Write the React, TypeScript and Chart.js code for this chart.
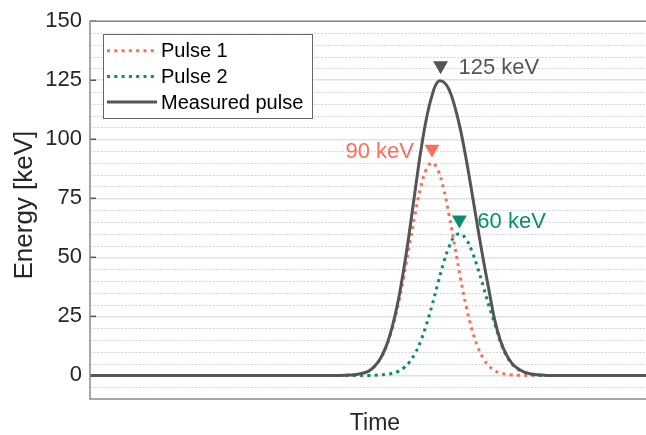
import React, { useEffect, useRef } from "react";
import { Chart, registerables } from "chart.js";

Chart.register(...registerables);

const FONT = "'Liberation Sans', Arial, Helvetica, sans-serif";

// Time samples (arbitrary units)
const timePoints = [0, 40, 41, 42, 43, 44, 45, 46, 47, 48, 49, 50, 51, 52, 53, 54, 55, 56, 57, 58, 59, 60, 61, 62, 63, 64, 65, 66, 67, 68, 69, 70, 71, 72, 73, 74, 75, 76, 77, 78, 79, 80, 81, 82, 100];

// Energy series [keV]
const pulse1 = [0, 0, 0, 0, 0, 0, 0.1, 0.2, 0.5, 1.0, 2.0, 4.0, 7.2, 12.2, 19.5, 29.2, 41.2, 54.6, 67.9, 79.4, 87.2, 90, 87.2, 79.4, 67.9, 54.6, 41.2, 29.2, 19.5, 12.2, 7.2, 4.0, 2.0, 1.0, 0.5, 0.2, 0.1, 0, 0, 0, 0, 0, 0, 0, 0];
const pulse2 = [0, 0, 0, 0, 0, 0, 0, 0, 0, 0, 0, 0.1, 0.2, 0.4, 0.8, 1.6, 3.1, 5.5, 9.2, 14.4, 21.4, 29.6, 38.7, 47.4, 54.5, 59.0, 59.9, 57.6, 52.6, 45.7, 37.6, 29.4, 21.9, 14.2, 8.6, 5.0, 2.8, 1.5, 0.7, 0.3, 0.1, 0, 0, 0, 0];
const measured = [0, 0, 0, 0, 0, 0, 0.1, 0.2, 0.5, 1.0, 2.0, 4.1, 7.4, 12.6, 20.3, 30.8, 44.3, 60.1, 77.5, 94.5, 108.5, 118.5, 124.3, 124.3, 121.0, 113.8, 104.0, 91.5, 77.5, 63.0, 49.0, 36.0, 23.5, 14.8, 9.0, 5.2, 3.0, 1.6, 0.8, 0.4, 0.2, 0, 0, 0, 0];

const seriesNames = ["Pulse 1", "Pulse 2", "Measured pulse"];

// Peak markers
const markerTimes = [61.5, 60, 64.8];
const markerEnergies = [131.2, 95.9, 65.9];
const markerLabels = ["125 keV", "90 keV", "60 keV"];

const yTicks = [0, 25, 50, 75, 100, 125, 150];
const yTitle = "Energy [keV]";
const xTitle = "Time";

const RED = "#fa6e5a";
const GREEN = "#078f6d";
const GRAY = "#555555";
const seriesColors = [RED, GREEN, GRAY];
const markerColors = [GRAY, RED, GREEN];
const markerLabelLeft = [false, true, false];

export default function App() {
  const ref = useRef<HTMLCanvasElement>(null);

  useEffect(() => {
    const canvas = ref.current;
    if (!canvas) return;
    const toPts = (vals: number[]) => timePoints.map((t, i) => ({ x: t, y: vals[i] }));

    const overlay = {
      id: "overlay",
      beforeDatasetsDraw(chart: any) {
        const { ctx, chartArea: a, scales } = chart;
        const y = scales.y;
        ctx.save();
        ctx.strokeStyle = "#d2d2d2";
        ctx.lineWidth = 1;
        ctx.setLineDash([2, 1.5]);
        for (let v = -5; v < 150; v += 5) {
          if (v % 25 === 0) continue;
          const py = Math.round(y.getPixelForValue(v)) + 0.5;
          ctx.beginPath();
          ctx.moveTo(a.left, py);
          ctx.lineTo(a.right, py);
          ctx.stroke();
        }
        ctx.setLineDash([]);
        ctx.strokeStyle = "#555";
        ctx.lineWidth = 1.5;
        yTicks.forEach((v) => {
          const py = y.getPixelForValue(v);
          ctx.beginPath();
          ctx.moveTo(a.left, py);
          ctx.lineTo(a.left + 6, py);
          ctx.stroke();
        });
        ctx.restore();
      },
      afterDatasetsDraw(chart: any) {
        const { ctx, chartArea: a } = chart;
        ctx.save();
        // frame
        ctx.strokeStyle = "#8a8a8a";
        ctx.lineWidth = 1.5;
        ctx.beginPath();
        ctx.moveTo(a.right, a.top);
        ctx.lineTo(a.left, a.top);
        ctx.lineTo(a.left, a.bottom);
        ctx.lineTo(a.right, a.bottom);
        ctx.stroke();

        // y-axis title
        ctx.save();
        ctx.translate(25, (a.top + a.bottom) / 2 - 5);
        ctx.rotate(-Math.PI / 2);
        ctx.font = `26px ${FONT}`;
        ctx.fillStyle = "#262626";
        ctx.textAlign = "center";
        ctx.textBaseline = "middle";
        ctx.fillText(yTitle, 0, 0);
        ctx.restore();

        // marker labels
        const meta = chart.getDatasetMeta(3);
        ctx.font = `22px ${FONT}`;
        ctx.textBaseline = "middle";
        meta.data.forEach((pt: any, i: number) => {
          ctx.fillStyle = markerColors[i];
          const left = markerLabelLeft[i];
          ctx.textAlign = left ? "right" : "left";
          ctx.fillText(markerLabels[i], pt.x + (left ? -18 : 18), pt.y + 2.5);
        });

        // legend
        const x0 = a.left + 13;
        const y0 = a.top + 12.5;
        const w = 209;
        const h = 84;
        ctx.fillStyle = "#ffffff";
        ctx.fillRect(x0, y0, w, h);
        ctx.strokeStyle = "#666";
        ctx.lineWidth = 1;
        ctx.strokeRect(Math.round(x0) + 0.5, Math.round(y0) + 0.5, w, h);
        ctx.font = `20px ${FONT}`;
        ctx.textAlign = "left";
        ctx.textBaseline = "middle";
        seriesNames.forEach((name, i) => {
          const ry = y0 + 17 + i * 25.7;
          ctx.strokeStyle = seriesColors[i];
          ctx.lineWidth = 3;
          ctx.lineCap = "butt";
          ctx.setLineDash(i < 2 ? [3, 4.3] : []);
          ctx.beginPath();
          ctx.moveTo(x0 + 4, ry);
          ctx.lineTo(x0 + 54, ry);
          ctx.stroke();
          ctx.setLineDash([]);
          ctx.fillStyle = "#000";
          ctx.fillText(name, x0 + 58, ry + 1);
        });
        ctx.restore();
      },
    };

    const chart = new Chart(canvas, {
      type: "line",
      data: {
        datasets: [
          {
            label: seriesNames[0],
            data: toPts(pulse1),
            borderColor: RED,
            borderWidth: 3,
            borderDash: [3, 4.3],
            borderCapStyle: "butt",
            pointRadius: 0,
            tension: 0.4,
            fill: false,
            order: 2,
          },
          {
            label: seriesNames[1],
            data: toPts(pulse2),
            borderColor: GREEN,
            borderWidth: 3,
            borderDash: [3, 4.3],
            borderCapStyle: "butt",
            pointRadius: 0,
            tension: 0.4,
            fill: false,
            order: 1,
          },
          {
            label: seriesNames[2],
            data: toPts(measured),
            borderColor: GRAY,
            borderWidth: 3,
            pointRadius: 0,
            tension: 0.4,
            fill: false,
            order: 0,
          },
          {
            label: "peaks",
            data: markerTimes.map((t, i) => ({ x: t, y: markerEnergies[i] })),
            showLine: false,
            pointStyle: "triangle",
            pointRotation: 180,
            pointRadius: 8.6,
            pointBorderWidth: 0,
            pointBackgroundColor: markerColors,
            pointBorderColor: markerColors,
            order: -1,
          } as any,
        ],
      },
      options: {
        responsive: false,
        animation: false,
        events: [],
        layout: { autoPadding: false, padding: { top: 21, left: 0, right: 0, bottom: 0 } },
        plugins: {
          legend: { display: false },
          tooltip: { enabled: false },
          title: { display: false },
        },
        scales: {
          x: {
            type: "linear",
            min: 0,
            max: 100,
            afterFit: (s: any) => {
              s.height = 36;
            },
            ticks: { display: false },
            grid: { display: false },
            border: { display: false },
            title: {
              display: true,
              text: xTitle,
              color: "#262626",
              font: { family: FONT, size: 23, lineHeight: 1 },
              padding: { top: 0, bottom: 0 },
            },
          },
          y: {
            type: "linear",
            min: -10,
            max: 150,
            afterFit: (s: any) => {
              s.width = 90;
            },
            afterBuildTicks: (s: any) => {
              s.ticks = yTicks.map((v) => ({ value: v }));
            },
            ticks: {
              padding: 8,
              color: "#262626",
              font: { family: FONT, size: 22 },
            },
            grid: { drawTicks: false, color: "#e2e2e2", lineWidth: 1.5 },
            border: { display: false },
            title: { display: false },
          },
        },
      },
      plugins: [overlay],
    } as any);

    return () => chart.destroy();
  }, []);

  return (
    <div
      style={{
        position: "absolute",
        left: 0,
        top: 0,
        width: 646,
        height: 435,
        overflow: "hidden",
        background: "#fff",
      }}
    >
      <canvas ref={ref} width={660} height={435} style={{ width: 660, height: 435, display: "block" }} />
    </div>
  );
}
